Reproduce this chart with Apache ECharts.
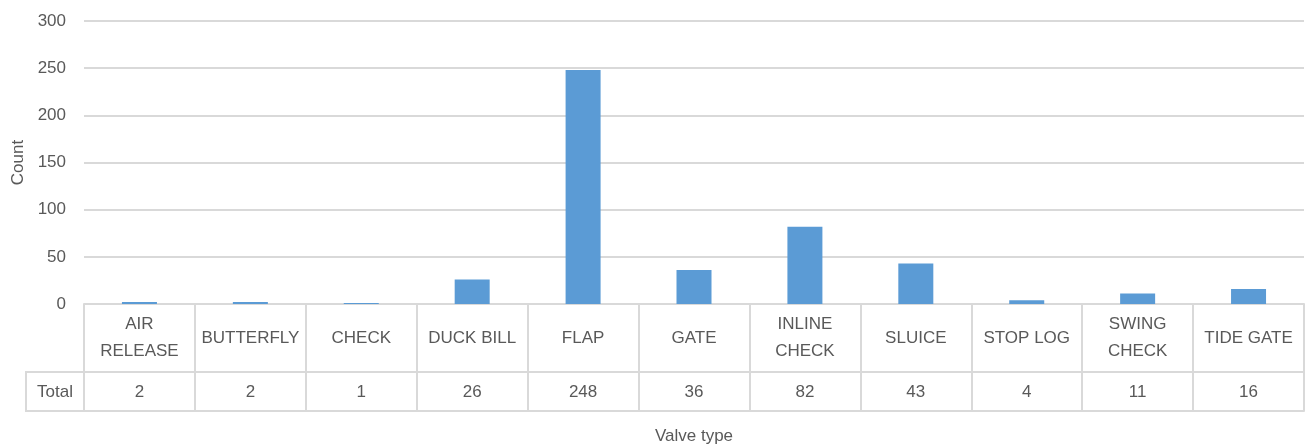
<!DOCTYPE html>
<html>
<head>
<meta charset="utf-8">
<script src="https://cdn.jsdelivr.net/npm/echarts@6/dist/echarts.min.js"></script>
<style>
  html, body { margin: 0; padding: 0; background: #fff; }
  #main { width: 1312px; height: 448px; }
</style>
</head>
<body>
<div id="main"></div>
<script>
var categories = ['AIR RELEASE', 'BUTTERFLY', 'CHECK', 'DUCK BILL', 'FLAP', 'GATE', 'INLINE CHECK', 'SLUICE', 'STOP LOG', 'SWING CHECK', 'TIDE GATE'];
var categoryLabels = ['AIR\nRELEASE', 'BUTTERFLY', 'CHECK', 'DUCK BILL', 'FLAP', 'GATE', 'INLINE\nCHECK', 'SLUICE', 'STOP LOG', 'SWING\nCHECK', 'TIDE GATE'];
var totals = [2, 2, 1, 26, 248, 36, 82, 43, 4, 11, 16];
var rowLabel = 'Total';

var font = '"Liberation Sans", Arial, sans-serif';
var fs = 17;
var textColor = '#595959';
var lineColor = '#d9d9d9';

var chart = echarts.init(document.getElementById('main'));
chart.setOption({
  animation: false,
  textStyle: { fontFamily: font },
  grid: { left: 84, right: 8, top: 21, bottom: 144, containLabel: false, outerBoundsMode: 'none' },
  yAxis: {
    type: 'value',
    min: 0, max: 300, interval: 50,
    name: 'Count',
    nameLocation: 'middle',
    nameRotate: 90,
    nameGap: 57,
    nameTextStyle: { color: textColor, fontSize: fs, fontFamily: font },
    axisLine: { show: false },
    axisTick: { show: false },
    axisLabel: { color: textColor, fontSize: fs, margin: 18, fontFamily: font },
    splitLine: { lineStyle: { color: lineColor, width: 2 } }
  },
  xAxis: [
    {
      type: 'category',
      data: categories,
      position: 'bottom',
      axisLine: { show: true, lineStyle: { color: lineColor, width: 2 } },
      axisTick: { show: true, length: 107, lineStyle: { color: lineColor, width: 2 } },
      axisLabel: {
        interval: 0,
        color: textColor,
        fontSize: fs,
        lineHeight: 27,
        fontFamily: font,
        margin: 34,
        verticalAlign: 'middle',
        formatter: function (v, i) { return categoryLabels[i]; }
      }
    },
    {
      type: 'category',
      data: totals.map(String),
      position: 'bottom',
      offset: 68,
      axisLine: { show: true, lineStyle: { color: lineColor, width: 2 } },
      axisTick: { show: false },
      axisLabel: { interval: 0, color: textColor, fontSize: fs, fontFamily: font, margin: 20, verticalAlign: 'middle' }
    },
    {
      type: 'category',
      data: categories,
      position: 'bottom',
      offset: 107,
      name: 'Valve type',
      nameLocation: 'middle',
      nameGap: 25,
      nameTextStyle: { color: textColor, fontSize: fs, fontFamily: font, verticalAlign: 'middle' },
      axisLine: { show: true, lineStyle: { color: lineColor, width: 2 } },
      axisTick: { show: false },
      axisLabel: { show: false }
    }
  ],
  series: [{
    type: 'bar',
    xAxisIndex: 0,
    data: totals,
    barWidth: 35,
    itemStyle: { color: '#5b9bd5' }
  }],
  graphic: [
    {
      type: 'rect',
      shape: { x: 26, y: 372, width: 58, height: 39 },
      style: { fill: 'none', stroke: lineColor, lineWidth: 2 }
    },
    {
      type: 'text',
      x: 55, y: 392,
      style: { text: rowLabel, fill: textColor, font: fs + 'px ' + font, align: 'center', verticalAlign: 'middle' }
    }
  ]
});
</script>
</body>
</html>
